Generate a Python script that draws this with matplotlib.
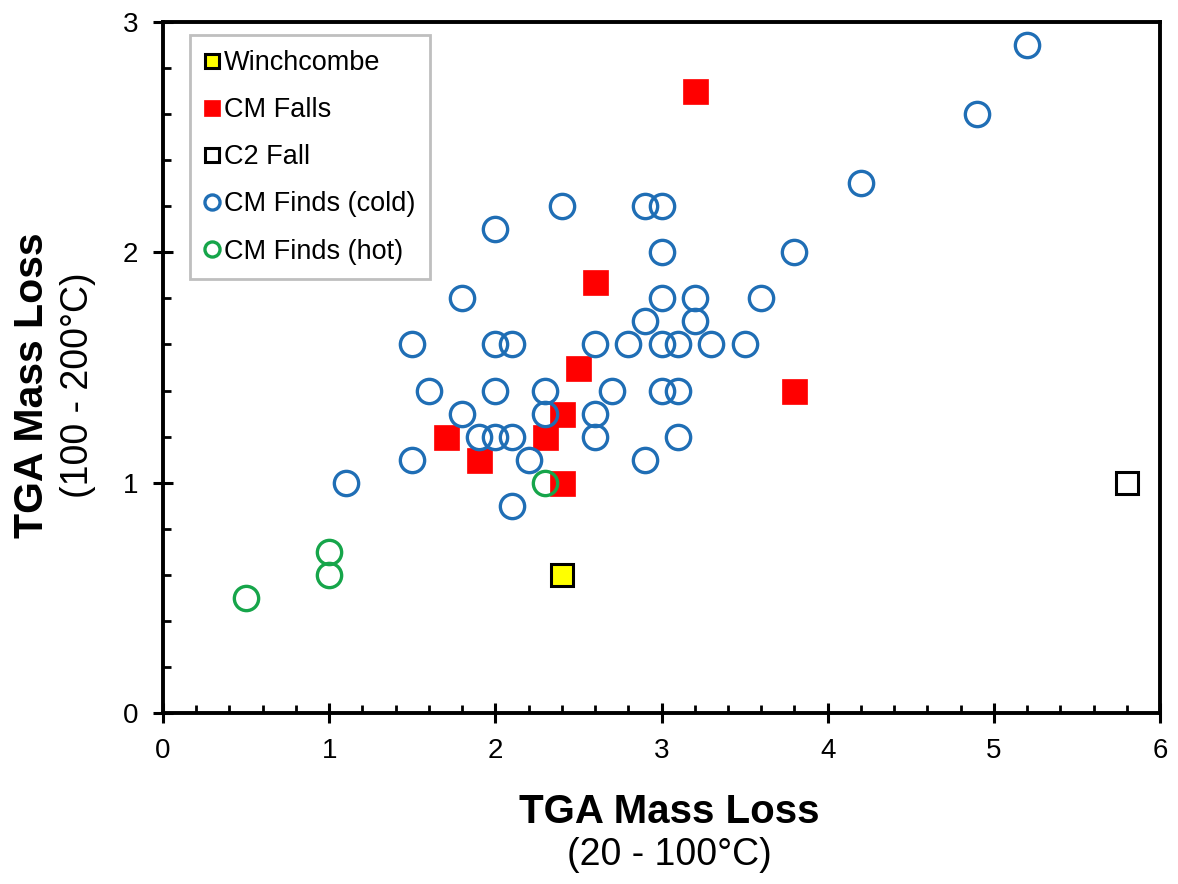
import matplotlib
matplotlib.use("Agg")
import matplotlib.pyplot as plt
from matplotlib.ticker import MultipleLocator

plt.rcParams['font.family'] = ['Liberation Sans', 'DejaVu Sans']

# data
winch_x = [2.4]
winch_y = [0.6]

falls_x = [3.2, 2.6, 2.5, 2.4, 2.3, 1.7, 1.9, 2.4, 3.8]
falls_y = [2.7, 1.87, 1.5, 1.3, 1.2, 1.2, 1.1, 1.0, 1.4]

c2_x = [5.8]
c2_y = [1.0]

cold_x = [5.2, 4.9, 4.2, 3.8, 3.6, 3.5, 3.3, 3.2, 3.2, 3.1, 3.1, 3.1,
          3.0, 3.0, 3.0, 3.0, 3.0, 2.9, 2.9, 2.9, 2.8, 2.7, 2.6, 2.6, 2.6,
          2.4, 2.3, 2.3, 2.2, 2.1, 2.1, 2.1, 2.0, 2.0, 2.0, 2.0, 1.9,
          1.8, 1.8, 1.6, 1.5, 1.5, 1.1]
cold_y = [2.9, 2.6, 2.3, 2.0, 1.8, 1.6, 1.6, 1.8, 1.7, 1.6, 1.4, 1.2,
          2.2, 2.0, 1.8, 1.6, 1.4, 2.2, 1.7, 1.1, 1.6, 1.4, 1.6, 1.3, 1.2,
          2.2, 1.4, 1.3, 1.1, 1.6, 1.2, 0.9, 2.1, 1.6, 1.4, 1.2, 1.2,
          1.8, 1.3, 1.4, 1.6, 1.1, 1.0]

hot_x = [2.3, 1.0, 1.0, 0.5]
hot_y = [1.0, 0.7, 0.6, 0.5]

blue = '#1F6EB5'
green = '#16A54A'

fig = plt.figure(figsize=(11.78, 8.84), dpi=100)
ax = fig.add_axes([0.1384, 0.1934, 0.8463, 0.7817])

ax.plot(winch_x, winch_y, ls='none', marker='s', ms=16, mfc='#FFFF00',
        mec='black', mew=2.2, label='Winchcombe')
ax.plot(falls_x, falls_y, ls='none', marker='s', ms=18, mfc='#FF0000',
        mec='#FF0000', mew=0.5, label='CM Falls')
ax.plot(c2_x, c2_y, ls='none', marker='s', ms=16, mfc='white',
        mec='black', mew=2.2, label='C2 Fall')
ax.plot(cold_x, cold_y, ls='none', marker='o', ms=17.5, mfc='none',
        mec=blue, mew=2.4, label='CM Finds (cold)')
ax.plot(hot_x, hot_y, ls='none', marker='o', ms=17.5, mfc='none',
        mec=green, mew=2.4, label='CM Finds (hot)')

ax.set_xlim(0, 6)
ax.set_ylim(0, 3)
ax.xaxis.set_major_locator(MultipleLocator(1))
ax.xaxis.set_minor_locator(MultipleLocator(0.2))
ax.yaxis.set_major_locator(MultipleLocator(1))
ax.yaxis.set_minor_locator(MultipleLocator(0.2))

for s in ax.spines.values():
    s.set_linewidth(2.8)
ax.tick_params(which='major', direction='inout', length=14, width=2.2,
               labelsize=20, pad=11)
ax.tick_params(which='minor', direction='in', length=5.5, width=2)

leg = ax.legend(loc='upper left', bbox_to_anchor=(0.027, 0.981),
                borderaxespad=0, fancybox=False, fontsize=19.5,
                markerscale=0.62, handlelength=0.5, handletextpad=0.2,
                labelspacing=0.78, borderpad=0.55, framealpha=1)
leg.get_frame().set_edgecolor('#BFBFBF')
leg.get_frame().set_linewidth(2)

fig.text(0.568, 0.081, 'TGA Mass Loss', ha='center', va='center',
         fontsize=29, fontweight='bold')
fig.text(0.568, 0.033, '(20 - 100°C)', ha='center', va='center',
         fontsize=27)
fig.text(0.027, 0.564, 'TGA Mass Loss', ha='center', va='center',
         fontsize=29.5, fontweight='bold', rotation=90)
fig.text(0.066, 0.564, '(100 - 200°C)', ha='center', va='center',
         fontsize=27, rotation=90)

fig.savefig('out.png', dpi=100)
